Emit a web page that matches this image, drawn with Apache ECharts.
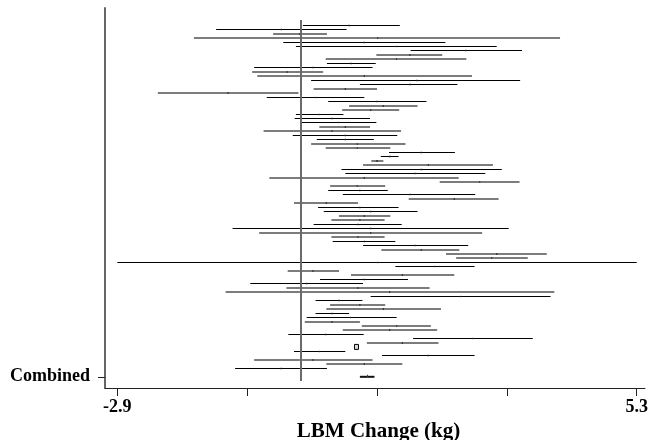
<!DOCTYPE html>
<html>
<head>
<meta charset="utf-8">
<script src="https://cdn.jsdelivr.net/npm/echarts@6/dist/echarts.min.js"></script>
<style>
  html, body { margin: 0; padding: 0; background: #fff; }
  #chart { width: 648px; height: 440px; }
</style>
</head>
<body>
<div id="chart"></div>
<script>
// ---- data ----
const studyLo = [
  0.03, -1.34, -0.44, -1.69, -0.28, -0.08, 1.73, 1.19, 0.39, 0.41,
  -0.74, -0.77, -0.69, 0.16, 0.93, 0.20, -2.26, -0.54, 0.43, 0.76,
  0.65, -0.08, -0.10, 0.00, 0.29, -0.59, -0.13, 0.25, 0.16, 0.39,
  1.39, 1.26, 1.11, 0.98, 0.64, 0.70, -0.50, 2.19, 0.46, 0.43,
  0.66, 1.70, -0.11, 0.27, 0.36, 0.60, 0.48, 0.20, -1.08, -0.66,
  0.48, 0.50, 0.98, 1.27, 2.29, 2.45, -2.90, 1.49, -0.21, 0.79,
  0.30, -0.80, -0.23, -1.19, 1.10, 0.23, 0.46, 0.40, 0.23, 0.09,
  0.06, 0.96, 0.66, -0.20, 1.77, 1.04, 0.87, -0.11, 1.28, -0.74,
  0.40, -1.04
];
const studyHi = [
  1.56, 0.72, 0.41, 4.09, 2.28, 3.09, 3.49, 2.23, 2.61, 1.18,
  1.13, 0.35, 2.70, 3.46, 2.47, 1.20, -0.04, 1.00, 1.98, 1.84,
  1.55, 0.67, 1.09, 1.19, 1.09, 1.58, 1.52, 1.15, 1.65, 1.41,
  2.43, 1.54, 1.30, 3.03, 3.17, 2.91, 2.49, 3.45, 1.33, 1.37,
  2.75, 3.12, 0.90, 1.54, 1.84, 1.41, 1.32, 1.59, 3.28, 2.86,
  1.32, 1.49, 2.64, 2.50, 3.88, 3.58, 5.30, 2.74, 0.60, 2.42,
  1.69, 0.98, 2.03, 4.00, 3.94, 0.97, 1.33, 2.21, 0.76, 1.51,
  0.93, 2.05, 2.15, 0.99, 3.66, 2.17, 0.89, 0.70, 2.74, 1.13,
  1.60, 0.41
];
const studyEst = [
  0.76, -0.31, -0.02, 1.21, 1.00, 1.51, 2.60, 1.72, 1.51, 0.79,
  0.19, -0.22, 1.00, 1.83, 1.72, 0.70, -1.15, 0.23, 1.20, 1.30,
  1.10, 0.29, 0.49, 0.59, 0.70, 0.49, 0.70, 0.70, 0.89, 0.89,
  1.90, 1.40, 1.20, 2.01, 1.90, 1.80, 1.00, 2.82, 0.89, 0.93,
  1.72, 2.42, 0.40, 0.93, 1.10, 1.00, 0.93, 0.90, 1.10, 1.10,
  0.90, 1.00, 1.80, 1.90, 3.09, 3.01, 1.21, 2.11, 0.19, 1.60,
  1.00, 0.09, 0.90, 1.40, 2.52, 0.60, 0.93, 1.30, 0.49, 0.78,
  0.49, 1.51, 1.40, 0.39, 2.71, 1.60, 0.88, 0.29, 2.01, 0.19,
  1.00, -0.31
];
const studyWeight = [
  1, 1, 1, 1, 1, 1, 1, 1, 1, 1,
  1, 1, 1, 1, 1, 1, 1, 1, 1, 1,
  1, 1, 1, 1, 1, 1, 1, 1, 1, 1,
  1, 1.5, 1.5, 1, 1, 1, 1, 1, 1, 1,
  1, 1, 1, 1, 1, 1, 1, 1, 1, 1,
  1, 1, 1, 1, 1, 1, 1, 1, 1, 1,
  1, 1, 1, 1, 1, 1, 1, 1, 1, 1,
  1, 1, 1, 1, 1, 1, 12, 1, 1, 1,
  1, 1
];
const combinedEstimate = [0.93, 1.05, 1.16]; // lower, estimate, upper
const combinedLabel = 'Combined';
const xTickValues = [-2.9, -0.85, 1.2, 3.25, 5.3];
const xLabelValues = [-2.9, 5.3];
const xLabelTexts = ['-2.9', '5.3'];
const xAxisTitle = 'LBM Change (kg)';
const referenceValue = 0;

// ---- layout constants ----
const COMBINED_ROW = 83;
const REF_TOP = -1.27, REF_BOTTOM = 84.0;
const serif = "'Liberation Serif', 'Times New Roman', serif";

const studyData = studyLo.map((lo, i) => [i, lo, studyHi[i], studyEst[i], studyWeight[i]]);

const chart = echarts.init(document.getElementById('chart'), null, { renderer: 'canvas' });

chart.setOption({
  animation: false,
  backgroundColor: '#fff',
  grid: { left: 105, right: 3, top: 8, bottom: 52, containLabel: false, outerBoundsMode: 'none' },
  xAxis: {
    type: 'value',
    min: -3.094,
    max: 5.431,
    splitLine: { show: false },
    axisLine: { show: true, onZero: false, lineStyle: { color: '#222', width: 1 } },
    axisTick: { show: true, length: 8, customValues: xTickValues, lineStyle: { color: '#222', width: 1 } },
    axisLabel: {
      customValues: xLabelValues,
      formatter: (v) => xLabelTexts[xLabelValues.indexOf(v)] ?? '',
      fontFamily: serif, fontWeight: 'bold', fontSize: 18, color: '#000', margin: 10
    },
    name: xAxisTitle,
    nameLocation: 'middle',
    nameGap: 20,
    nameTextStyle: { fontFamily: serif, fontWeight: 'bold', fontSize: 21, color: '#000', padding: [0, 0, 0, 7] }
  },
  yAxis: {
    type: 'value',
    inverse: true,
    min: -4.0925,
    max: 85.644,
    splitLine: { show: false },
    axisLine: { show: true, onZero: false, lineStyle: { color: '#666', width: 2 } },
    axisTick: { show: true, length: 7, customValues: [COMBINED_ROW], lineStyle: { color: '#222', width: 1 } },
    axisLabel: {
      customValues: [COMBINED_ROW],
      formatter: () => combinedLabel,
      fontFamily: serif, fontWeight: 'bold', fontSize: 18, color: '#000', margin: 15,
      padding: [12, 0, 0, 0]
    }
  },
  series: [
    {
      type: 'custom',
      name: 'studies',
      clip: false,
      encode: { x: [1, 2, 3], y: 0 },
      data: studyData,
      renderItem: (params, api) => {
        const row = api.value(0);
        const a = api.coord([api.value(1), row]);
        const b = api.coord([api.value(2), row]);
        const e = api.coord([api.value(3), row]);
        // emulate how a 1px rule lands on the pixel grid
        const f = a[1] - Math.floor(a[1]);
        const crisp = f >= 0.25 && f < 0.75;
        const yy = crisp ? Math.floor(a[1]) + 0.5 : Math.round(a[1]);
        const side = 1.3 * Math.sqrt(api.value(4));
        const children = [{
          type: 'line',
          shape: { x1: a[0], y1: yy, x2: b[0], y2: yy },
          style: { stroke: crisp ? '#000' : '#7c7c7c', lineWidth: crisp ? 1 : 2 }
        }];
        if (side > 3) {
          children.push({
            type: 'rect',
            shape: { x: e[0] - side / 2, y: e[1] - side / 2 - 0.5, width: side - 0.5, height: side + 0.5 },
            style: { fill: '#d8d8d8', stroke: '#000', lineWidth: 1 }
          });
        } else {
          children.push({
            type: 'rect',
            shape: { x: e[0] - side / 2, y: yy - side / 2, width: side, height: side },
            style: { fill: '#222' }
          });
        }
        return { type: 'group', children };
      }
    },
    {
      type: 'custom',
      name: 'reference',
      clip: false,
      data: [[referenceValue]],
      renderItem: (params, api) => {
        const v = api.value(0);
        const t = api.coord([v, REF_TOP]);
        const bt = api.coord([v, REF_BOTTOM]);
        const x = Math.round(t[0]);
        return {
          type: 'line',
          z2: 5,
          shape: { x1: x, y1: t[1], x2: x, y2: bt[1] },
          style: { stroke: '#6a6a6a', lineWidth: 2 }
        };
      }
    },
    {
      type: 'custom',
      name: 'combined',
      clip: false,
      data: [combinedEstimate],
      renderItem: (params, api) => {
        const a = api.coord([api.value(0), COMBINED_ROW]);
        const e = api.coord([api.value(1), COMBINED_ROW]);
        const b = api.coord([api.value(2), COMBINED_ROW]);
        return {
          type: 'group',
          children: [
            { type: 'line', shape: { x1: a[0], y1: a[1], x2: b[0], y2: b[1] }, style: { stroke: '#111', lineWidth: 2 } },
            { type: 'rect', shape: { x: e[0] - 0.5, y: e[1] - 2, width: 1, height: 3 }, style: { fill: '#444' } }
          ]
        };
      }
    }
  ]
});
</script>
</body>
</html>
